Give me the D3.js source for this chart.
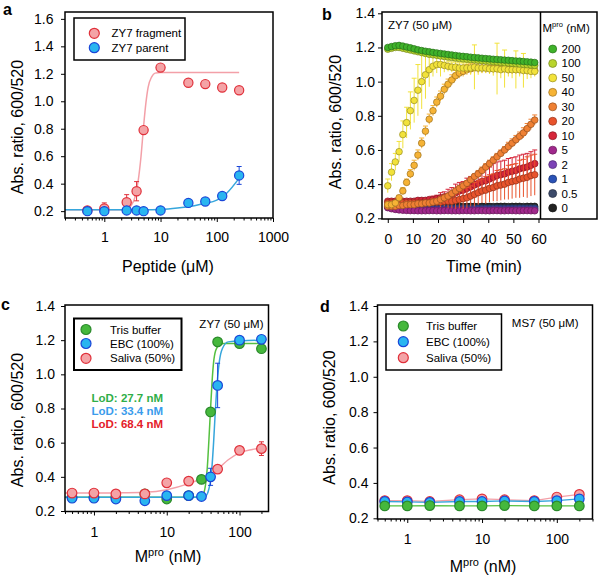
<!DOCTYPE html>
<html><head><meta charset="utf-8">
<script src="https://cdn.jsdelivr.net/npm/d3@7"></script>
<style>body{margin:0;background:#fff}svg{display:block}text{font-family:Arial,"Liberation Sans",sans-serif}</style>
</head><body><svg id="chart" width="600" height="581"></svg>
<script>
// ===== Panel a data =====
const aConc = [0.5, 1, 2.5, 3.75, 5, 10, 31.25, 62.5, 125, 250];
const aFragment = [0.205, 0.22, 0.265, 0.345, 0.79, 1.245, 1.135, 1.125, 1.10, 1.08];
const aFragmentErr = [0.005, 0.04, 0.055, 0.07, 0.015, 0.01, 0.01, 0.01, 0.01, 0.01];
const aParent = [0.20, 0.20, 0.205, 0.205, 0.20, 0.205, 0.26, 0.27, 0.31, 0.46];
const aParentErr = [0.005, 0.005, 0.005, 0.005, 0.005, 0.005, 0.01, 0.01, 0.015, 0.065];
const aFragFitX = [0.2, 2, 2.5, 3, 3.5, 4, 4.5, 5, 5.5, 6, 7, 8, 10, 250];
const aFragFitY = [0.21, 0.21, 0.215, 0.24, 0.30, 0.42, 0.60, 0.82, 0.99, 1.10, 1.18, 1.205, 1.21, 1.21];
const aParFitX = [0.2, 5, 10, 20, 40, 60, 100, 150, 250];
const aParFitY = [0.21, 0.21, 0.212, 0.222, 0.24, 0.255, 0.28, 0.33, 0.44];
const aXTicks = [1, 10, 100, 1000];
const aYTicks = [0.2, 0.4, 0.6, 0.8, 1.0, 1.2, 1.4, 1.6];
const aLegend = ["ZY7 fragment", "ZY7 parent"];

// ===== Panel b data =====
const bTime = [0,1.5,3,4.5,6,7.5,9,10.5,12,13.5,15,16.5,18,19.5,21,22.5,24,25.5,27,28.5,30,31.5,33,34.5,36,37.5,39,40.5,42,43.5,45,46.5,48,49.5,51,52.5,54,55.5,57,58.5];
const b200 = [1.200,1.205,1.210,1.212,1.208,1.203,1.198,1.192,1.186,1.182,1.178,1.175,1.171,1.168,1.165,1.162,1.159,1.156,1.153,1.150,1.148,1.146,1.143,1.141,1.139,1.137,1.135,1.133,1.131,1.130,1.128,1.126,1.125,1.123,1.121,1.120,1.118,1.116,1.114,1.112];
const b100 = [1.190,1.195,1.200,1.200,1.195,1.190,1.185,1.180,1.175,1.170,1.165,1.160,1.157,1.154,1.150,1.147,1.144,1.141,1.138,1.135,1.133,1.131,1.129,1.127,1.125,1.123,1.121,1.119,1.117,1.115,1.113,1.111,1.109,1.107,1.105,1.103,1.101,1.099,1.097,1.095];
const b50 = [0.39,0.47,0.53,0.59,0.69,0.76,0.83,0.89,0.95,1.00,1.04,1.07,1.09,1.10,1.10,1.095,1.09,1.085,1.085,1.08,1.08,1.08,1.08,1.085,1.08,1.08,1.08,1.075,1.075,1.075,1.07,1.075,1.07,1.07,1.07,1.07,1.065,1.065,1.06,1.06];
const b50Err = [0.04,0.05,0.05,0.06,0.08,0.09,0.11,0.13,0.15,0.16,0.14,0.10,0.06,0.05,0.07,0.04,0.03,0.03,0.03,0.03,0.03,0.03,0.04,0.13,0.04,0.03,0.03,0.03,0.04,0.15,0.05,0.11,0.04,0.05,0.11,0.04,0.10,0.05,0.04,0.03];
const b40 = [0.28,0.28,0.29,0.32,0.36,0.41,0.46,0.51,0.57,0.64,0.71,0.78,0.83,0.88,0.915,0.955,0.985,1.01,1.035,1.05,1.06,1.07,1.075,1.08,1.08,1.08,1.08,1.08,1.08,1.08,1.08,1.08,1.075,1.075,1.075,1.07,1.07,1.07,1.07,1.065];
const b40Err = [0.01,0.01,0.01,0.015,0.02,0.02,0.025,0.03,0.03,0.03,0.03,0.03,0.03,0.03,0.03,0.03,0.03,0.03,0.03,0.03,0.03,0.03,0.03,0.03,0.03,0.03,0.03,0.03,0.03,0.03,0.03,0.03,0.03,0.03,0.03,0.03,0.03,0.03,0.03,0.03];
const b30 = [0.27,0.27,0.27,0.275,0.275,0.28,0.28,0.28,0.285,0.285,0.29,0.29,0.295,0.30,0.31,0.32,0.33,0.345,0.36,0.375,0.39,0.405,0.425,0.445,0.46,0.48,0.50,0.52,0.54,0.56,0.58,0.60,0.62,0.64,0.66,0.68,0.70,0.725,0.75,0.775];
const b30Err = [0.005,0.005,0.005,0.005,0.005,0.005,0.005,0.005,0.01,0.01,0.01,0.01,0.01,0.01,0.01,0.01,0.01,0.015,0.015,0.015,0.015,0.015,0.015,0.015,0.02,0.02,0.02,0.02,0.02,0.02,0.02,0.02,0.025,0.025,0.025,0.025,0.03,0.03,0.03,0.03];
const b20 = [0.29,0.29,0.29,0.29,0.29,0.29,0.29,0.29,0.29,0.29,0.29,0.29,0.295,0.295,0.295,0.30,0.30,0.30,0.305,0.31,0.315,0.32,0.33,0.34,0.35,0.36,0.365,0.375,0.38,0.39,0.395,0.40,0.41,0.415,0.42,0.43,0.435,0.44,0.45,0.455];
const b20Err = [0.005,0.005,0.005,0.005,0.005,0.005,0.005,0.005,0.005,0.005,0.01,0.01,0.02,0.02,0.03,0.03,0.04,0.04,0.05,0.05,0.06,0.06,0.06,0.07,0.07,0.07,0.08,0.08,0.08,0.09,0.09,0.09,0.10,0.10,0.10,0.11,0.11,0.12,0.12,0.12];
const b10 = [0.30,0.30,0.30,0.30,0.30,0.30,0.30,0.30,0.305,0.305,0.305,0.31,0.31,0.315,0.32,0.325,0.33,0.34,0.35,0.36,0.365,0.375,0.385,0.395,0.405,0.415,0.42,0.43,0.44,0.45,0.455,0.46,0.47,0.475,0.48,0.49,0.495,0.50,0.51,0.52];
const b10Err = [0.005,0.005,0.005,0.005,0.005,0.005,0.005,0.005,0.01,0.01,0.01,0.01,0.02,0.02,0.03,0.03,0.04,0.04,0.05,0.05,0.05,0.06,0.06,0.06,0.07,0.07,0.07,0.07,0.08,0.08,0.08,0.08,0.08,0.08,0.08,0.08,0.08,0.08,0.08,0.08];
const b5 = [0.262,0.256,0.252,0.249,0.247,0.246,0.245,0.245,0.244,0.244,0.244,0.245,0.245,0.244,0.244,0.245,0.245,0.244,0.244,0.244,0.245,0.245,0.244,0.244,0.245,0.245,0.244,0.244,0.245,0.245,0.244,0.244,0.245,0.245,0.244,0.244,0.245,0.245,0.244,0.244];
const b2 = [0.265,0.26,0.256,0.253,0.251,0.25,0.25,0.249,0.249,0.25,0.25,0.249,0.249,0.25,0.25,0.249,0.25,0.25,0.249,0.25,0.25,0.249,0.25,0.25,0.249,0.25,0.25,0.249,0.25,0.25,0.249,0.25,0.25,0.249,0.25,0.25,0.249,0.25,0.25,0.249];
const b1 = [0.268,0.264,0.26,0.258,0.256,0.255,0.255,0.254,0.255,0.255,0.254,0.255,0.255,0.254,0.255,0.255,0.254,0.255,0.255,0.254,0.255,0.255,0.254,0.255,0.255,0.254,0.255,0.255,0.254,0.255,0.255,0.254,0.255,0.255,0.254,0.255,0.255,0.254,0.255,0.255];
const b05 = [0.27,0.268,0.265,0.263,0.262,0.262,0.261,0.262,0.262,0.261,0.262,0.262,0.261,0.262,0.262,0.261,0.262,0.262,0.261,0.262,0.262,0.261,0.262,0.262,0.261,0.262,0.262,0.261,0.262,0.262,0.261,0.262,0.262,0.261,0.262,0.262,0.261,0.262,0.262,0.261];
const b0 = [0.275,0.273,0.272,0.271,0.27,0.27,0.27,0.27,0.269,0.27,0.27,0.27,0.269,0.27,0.27,0.27,0.269,0.27,0.27,0.27,0.269,0.27,0.27,0.27,0.269,0.27,0.27,0.27,0.269,0.27,0.27,0.27,0.269,0.27,0.27,0.27,0.269,0.27,0.27,0.27];
const bLevels = ["200", "100", "50", "40", "30", "20", "10", "5", "2", "1", "0.5", "0"];
const bXTicks = [0, 10, 20, 30, 40, 50, 60];
const bYTicks = [0.2, 0.4, 0.6, 0.8, 1.0, 1.2, 1.4];

// ===== Panel c data =====
const cConc = [0.5, 1, 2, 5, 10, 20, 30, 40, 50, 100, 200];
const cTris = [0.28, 0.28, 0.28, 0.30, 0.27, 0.29, 0.385, 0.78, 1.19, 1.18, 1.15];
const cTrisErr = [0.005, 0.005, 0.005, 0.025, 0.01, 0.01, 0.01, 0.015, 0.01, 0.01, 0.01];
const cEBC = [0.275, 0.275, 0.27, 0.26, 0.29, 0.29, 0.285, 0.40, 0.935, 1.20, 1.205];
const cEBCErr = [0.005, 0.005, 0.01, 0.01, 0.01, 0.01, 0.01, 0.05, 0.13, 0.01, 0.01];
const cSalConc = [0.5, 1, 2, 5, 10, 20, 50, 100, 200];
const cSaliva = [0.305, 0.305, 0.30, 0.30, 0.365, 0.375, 0.445, 0.555, 0.565];
const cSalivaErr = [0.005, 0.005, 0.005, 0.01, 0.01, 0.01, 0.02, 0.01, 0.04];
const cTrisFitX = [0.4, 28, 31, 34, 36, 38, 40, 42, 44, 47, 52, 60, 200];
const cTrisFitY = [0.28, 0.28, 0.29, 0.35, 0.45, 0.62, 0.80, 0.96, 1.07, 1.14, 1.17, 1.18, 1.18];
const cEBCFitX = [0.4, 32, 35, 38, 40, 42, 44, 46, 48, 50, 53, 58, 70, 200];
const cEBCFitY = [0.28, 0.28, 0.29, 0.33, 0.38, 0.47, 0.60, 0.75, 0.88, 0.98, 1.08, 1.15, 1.19, 1.20];
const cSalFitX = [0.4, 1, 2, 5, 10, 20, 30, 50, 70, 100, 150, 200];
const cSalFitY = [0.305, 0.305, 0.306, 0.31, 0.325, 0.36, 0.39, 0.445, 0.50, 0.54, 0.56, 0.57];
const cLoD = ["LoD: 27.7 nM", "LoD: 33.4 nM", "LoD: 68.4 nM"];
const cdXTicks = [1, 10, 100];
const cdYTicks = [0.2, 0.4, 0.6, 0.8, 1.0, 1.2, 1.4];
const cdLegend = ["Tris buffer", "EBC (100%)", "Saliva (50%)"];

// ===== Panel d data =====
const dConc = [0.5, 1, 2, 5, 10, 20, 50, 100, 200];
const dTris = [0.27, 0.27, 0.272, 0.27, 0.27, 0.272, 0.27, 0.27, 0.27];
const dEBC = [0.295, 0.293, 0.29, 0.295, 0.295, 0.298, 0.295, 0.30, 0.31];
const dSaliva = [0.30, 0.30, 0.295, 0.305, 0.31, 0.305, 0.30, 0.32, 0.335];

// ===== styles =====
const PINK = {fill: "#f4a3a6", stroke: "#e0303a", line: "#f3a0a8"};
const BLUE = {fill: "#29b5f0", stroke: "#1a46d8", line: "#36a6dc"};
const GREEN = {fill: "#45b83c", stroke: "#2b8a2c", line: "#55c040"};
const bColors = ["#3fb22a", "#b8d42c", "#f2e23a", "#f6b335", "#ef8033", "#e8532c", "#d6263a", "#a0288c", "#7b42b6", "#2a52b6", "#3c4a6a", "#222222"];

const svg = d3.select("#chart");
const FONT_TICK = 14, FONT_TITLE = 16;

function frame(L, T, R, B, sw) {
  svg.append("rect").attr("x", L).attr("y", T).attr("width", R - L).attr("height", B - T)
    .attr("fill", "none").attr("stroke", "#000").attr("stroke-width", sw);
}
function styleAxis(g) {
  g.select(".domain").remove();
  g.selectAll("text").attr("font-size", FONT_TICK).attr("font-family", "Arial, 'Liberation Sans', sans-serif").attr("fill", "#000");
  g.selectAll("line").attr("stroke", "#000").attr("stroke-width", 1);
}
function yAxis(y, L, ticks, pad) {
  const g = svg.append("g").attr("transform", `translate(${L},0)`)
    .call(d3.axisLeft(y).tickValues(ticks).tickFormat(d3.format(".1f")).tickSize(4).tickPadding(pad));
  styleAxis(g);
}
function xAxisLog(x, B, majors, pad) {
  const g = svg.append("g").attr("transform", `translate(0,${B})`)
    .call(d3.axisBottom(x).tickValues(majors).tickFormat(d3.format("d")).tickSize(4).tickPadding(pad));
  styleAxis(g);
  const minors = x.ticks().filter(v => !majors.some(m => Math.abs(m - v) < 1e-9));
  const g2 = svg.append("g").attr("transform", `translate(0,${B})`)
    .call(d3.axisBottom(x).tickValues(minors).tickFormat("").tickSize(2.5));
  styleAxis(g2);
}
function yTitle(x, y, txt) {
  svg.append("text").attr("transform", `translate(${x},${y}) rotate(-90)`).attr("text-anchor", "middle")
    .attr("dominant-baseline", "central").attr("font-size", FONT_TITLE).text(txt);
}
function mproTitle(x, y) {
  const t = svg.append("text").attr("x", x).attr("y", y).attr("text-anchor", "middle").attr("font-size", FONT_TITLE);
  t.append("tspan").text("M");
  t.append("tspan").attr("font-size", 11).attr("dy", -6).text("pro");
  t.append("tspan").attr("dy", 6).text(" (nM)");
}
function panelLabel(x, y, s) {
  svg.append("text").attr("x", x).attr("y", y).attr("font-size", 16).attr("font-weight", "bold").text(s);
}
function fitLine(x, y, xs, ys, color, w) {
  svg.append("path").datum(xs.map((v, i) => [v, ys[i]]))
    .attr("d", d3.line().x(d => x(d[0])).y(d => y(d[1])).curve(d3.curveMonotoneX))
    .attr("fill", "none").attr("stroke", color).attr("stroke-width", w || 1.5);
}
function errBars(x, y, xs, ys, es, color, cap) {
  const g = svg.append("g").attr("stroke", color).attr("stroke-width", 1);
  xs.forEach((v, i) => {
    if (ys[i] == null || !es[i]) return;
    const cx = x(v), y1 = y(ys[i] + es[i]), y2 = y(ys[i] - es[i]);
    g.append("line").attr("x1", cx).attr("x2", cx).attr("y1", y1).attr("y2", y2);
    g.append("line").attr("x1", cx - cap).attr("x2", cx + cap).attr("y1", y1).attr("y2", y1);
    g.append("line").attr("x1", cx - cap).attr("x2", cx + cap).attr("y1", y2).attr("y2", y2);
  });
}
function dots(x, y, xs, ys, st, r, sw) {
  svg.append("g").selectAll("circle").data(xs.map((v, i) => [v, ys[i]]).filter(d => d[1] != null))
    .join("circle").attr("cx", d => x(d[0])).attr("cy", d => y(d[1])).attr("r", r)
    .attr("fill", st.fill).attr("stroke", st.stroke).attr("stroke-width", sw || 1.2);
}
function legendBox(L, T, R, B, sw, items, cx, tx, ys, r) {
  svg.append("rect").attr("x", L).attr("y", T).attr("width", R - L).attr("height", B - T)
    .attr("fill", "#fff").attr("stroke", "#000").attr("stroke-width", sw);
  items.forEach((it, i) => {
    svg.append("circle").attr("cx", cx).attr("cy", ys[i]).attr("r", r)
      .attr("fill", it.st.fill).attr("stroke", it.st.stroke).attr("stroke-width", 1.2);
    svg.append("text").attr("x", tx).attr("y", ys[i]).attr("dominant-baseline", "central")
      .attr("font-size", 11.5).text(it.label);
  });
}

// ================= PANEL A =================
const A = {L: 65, R: 273, T: 12, B: 218};
const xa = d3.scaleLog().domain([0.2, 1000]).range([A.L, A.R]);
const ya = d3.scaleLinear().domain([0.15, 1.65]).range([A.B, A.T]);
fitLine(xa, ya, aFragFitX, aFragFitY, PINK.line, 1.5);
fitLine(xa, ya, aParFitX, aParFitY, BLUE.line, 1.5);
errBars(xa, ya, aConc, aFragment, aFragmentErr, PINK.stroke, 2.5);
dots(xa, ya, aConc, aFragment, PINK, 4.6);
errBars(xa, ya, aConc, aParent, aParentErr, BLUE.stroke, 2.5);
dots(xa, ya, aConc, aParent, BLUE, 4.6);
frame(A.L, A.T, A.R, A.B, 1.5);
yAxis(ya, A.L, aYTicks, 7.5);
xAxisLog(xa, A.B, aXTicks, 10);
legendBox(74, 18, 185, 60, 1.5, [{label: aLegend[0], st: PINK}, {label: aLegend[1], st: BLUE}], 94.3, 111.5, [33.3, 47.7], 5);
yTitle(17, 127, "Abs. ratio, 600/520");
svg.append("text").attr("x", 168).attr("y", 272).attr("text-anchor", "middle").attr("font-size", FONT_TITLE).text("Peptide (\u03bcM)");
panelLabel(3, 15, "a");

// ================= PANEL B =================
const Bp = {L: 382, R: 540.5, T: 12, B: 219, LR: 597};
const xb = d3.scaleLinear().domain([-2.3, 60.8]).range([Bp.L, Bp.R]);
const yb = d3.scaleLinear().domain([0.2, 1.4]).range([218.3, 13.3]);
const bSeries = [b200, b100, b50, b40, b30, b20, b10, b5, b2, b1, b05, b0];
const bErrs = [null, null, b50Err, b40Err, b30Err, b20Err, b10Err, null, null, null, null, null];
svg.append("clipPath").attr("id", "clipb").append("rect")
  .attr("x", Bp.L).attr("y", Bp.T).attr("width", Bp.R - Bp.L).attr("height", Bp.B - Bp.T);
const gb = svg.append("g").attr("clip-path", "url(#clipb)");
for (let k = bSeries.length - 1; k >= 0; k--) {
  const vals = bSeries[k], col = bColors[k], er = bErrs[k];
  if (er) {
    const ge = gb.append("g").attr("stroke", col).attr("stroke-width", 1);
    bTime.forEach((t, i) => {
      const cx = xb(t), y1 = yb(vals[i] + er[i]), y2 = yb(vals[i] - er[i]);
      ge.append("line").attr("x1", cx).attr("x2", cx).attr("y1", y1).attr("y2", y2);
      ge.append("line").attr("x1", cx - 2.5).attr("x2", cx + 2.5).attr("y1", y1).attr("y2", y1);
    });
  }
  gb.append("g").selectAll("circle").data(bTime.map((t, i) => [t, vals[i]])).join("circle")
    .attr("cx", d => xb(d[0])).attr("cy", d => yb(d[1])).attr("r", 3.3)
    .attr("fill", col).attr("stroke", d3.color(col).darker(1.3)).attr("stroke-width", 0.7);
}
frame(Bp.L, Bp.T, Bp.LR, Bp.B, 1.5);
svg.append("line").attr("x1", Bp.R).attr("x2", Bp.R).attr("y1", Bp.T).attr("y2", Bp.B).attr("stroke", "#000").attr("stroke-width", 1.5);
yAxis(yb, Bp.L, bYTicks, 3);
{
  const g = svg.append("g").attr("transform", `translate(0,${Bp.B})`)
    .call(d3.axisBottom(xb).tickValues(bXTicks).tickFormat(d3.format("d")).tickSize(4).tickPadding(11));
  styleAxis(g);
}
svg.append("text").attr("x", 388).attr("y", 25).attr("dominant-baseline", "central").attr("font-size", 11.5).text("ZY7 (50 \u03bcM)");
{
  const t = svg.append("text").attr("x", 542.5).attr("y", 28).attr("dominant-baseline", "central").attr("font-size", 11.5);
  t.append("tspan").text("M");
  t.append("tspan").attr("font-size", 7.5).attr("dy", -4).text("pro");
  t.append("tspan").attr("dy", 4).text(" (nM)");
}
bLevels.forEach((lv, i) => {
  const yy = 49 + i * 14.45;
  svg.append("circle").attr("cx", 552.7).attr("cy", yy).attr("r", 4)
    .attr("fill", bColors[i]).attr("stroke", d3.color(bColors[i]).darker(1.3)).attr("stroke-width", 0.7);
  svg.append("text").attr("x", 561.5).attr("y", yy).attr("dominant-baseline", "central").attr("font-size", 11.5).text(lv);
});
yTitle(335, 122, "Abs. ratio, 600/520");
svg.append("text").attr("x", 484).attr("y", 272).attr("text-anchor", "middle").attr("font-size", FONT_TITLE).text("Time (min)");
panelLabel(322, 20, "b");

// ================= PANEL C =================
const C = {L: 65, R: 268.5, T: 305, B: 511.5};
const xc = d3.scaleLog().domain([0.4, 250]).range([C.L, C.R]);
const yc = d3.scaleLinear().domain([0.2, 1.4]).range([511, 306]);
fitLine(xc, yc, cSalFitX, cSalFitY, PINK.line, 1.5);
fitLine(xc, yc, cTrisFitX, cTrisFitY, GREEN.line, 1.5);
fitLine(xc, yc, cEBCFitX, cEBCFitY, BLUE.line, 1.5);
errBars(xc, yc, cConc, cTris, cTrisErr, GREEN.stroke, 2.5);
dots(xc, yc, cConc, cTris, GREEN, 4.8);
errBars(xc, yc, cConc, cEBC, cEBCErr, BLUE.stroke, 2.5);
dots(xc, yc, cConc, cEBC, BLUE, 4.8);
errBars(xc, yc, cSalConc, cSaliva, cSalivaErr, PINK.stroke, 2.5);
dots(xc, yc, cSalConc, cSaliva, PINK, 4.8);
frame(C.L, C.T, C.R, C.B, 1.5);
yAxis(yc, C.L, cdYTicks, 6);
xAxisLog(xc, C.B, cdXTicks, 12);
legendBox(74, 318.5, 181.5, 370, 2, [{label: cdLegend[0], st: GREEN}, {label: cdLegend[1], st: BLUE}, {label: cdLegend[2], st: PINK}], 86, 110, [329.5, 343.5, 358.3], 5);
const lodColors = ["#2fae48", "#3a9cec", "#e42029"];
cLoD.forEach((s, i) => {
  svg.append("text").attr("x", 91.5).attr("y", 397.5 + i * 13.3).attr("dominant-baseline", "central")
    .attr("font-size", 11.5).attr("font-weight", "bold").attr("fill", lodColors[i]).text(s);
});
svg.append("text").attr("x", 263.5).attr("y", 323.5).attr("text-anchor", "end").attr("dominant-baseline", "central").attr("font-size", 11.5).text("ZY7 (50 \u03bcM)");
yTitle(17, 420, "Abs. ratio, 600/520");
mproTitle(168, 562);
panelLabel(1, 310, "c");

// ================= PANEL D =================
const D = {L: 377.5, R: 592.5, T: 305, B: 519};
const xd = d3.scaleLog().domain([0.4, 300]).range([D.L, D.R]);
const yd = d3.scaleLinear().domain([0.2, 1.4]).range([518.3, 306]);
function plainLine(x, y, xs, ys, color) {
  svg.append("path").datum(xs.map((v, i) => [v, ys[i]]))
    .attr("d", d3.line().x(d => x(d[0])).y(d => y(d[1])))
    .attr("fill", "none").attr("stroke", color).attr("stroke-width", 1.3);
}
plainLine(xd, yd, dConc, dSaliva, PINK.line);
plainLine(xd, yd, dConc, dEBC, BLUE.line);
plainLine(xd, yd, dConc, dTris, GREEN.line);
dots(xd, yd, dConc, dSaliva, PINK, 4.8);
dots(xd, yd, dConc, dEBC, BLUE, 4.8);
dots(xd, yd, dConc, dTris, GREEN, 4.8);
frame(D.L, D.T, D.R, D.B, 1.5);
yAxis(yd, D.L, cdYTicks, 5);
xAxisLog(xd, D.B, cdXTicks, 11);
legendBox(386, 314, 501.5, 370, 1.5, [{label: cdLegend[0], st: GREEN}, {label: cdLegend[1], st: BLUE}, {label: cdLegend[2], st: PINK}], 403.3, 426, [326, 341.7, 357.7], 5);
svg.append("text").attr("x", 578.5).attr("y", 323).attr("text-anchor", "end").attr("dominant-baseline", "central").attr("font-size", 11.5).text("MS7 (50 \u03bcM)");
yTitle(329.5, 417.5, "Abs. ratio, 600/520");
mproTitle(483, 572);
panelLabel(320, 312, "d");
</script></body></html>
